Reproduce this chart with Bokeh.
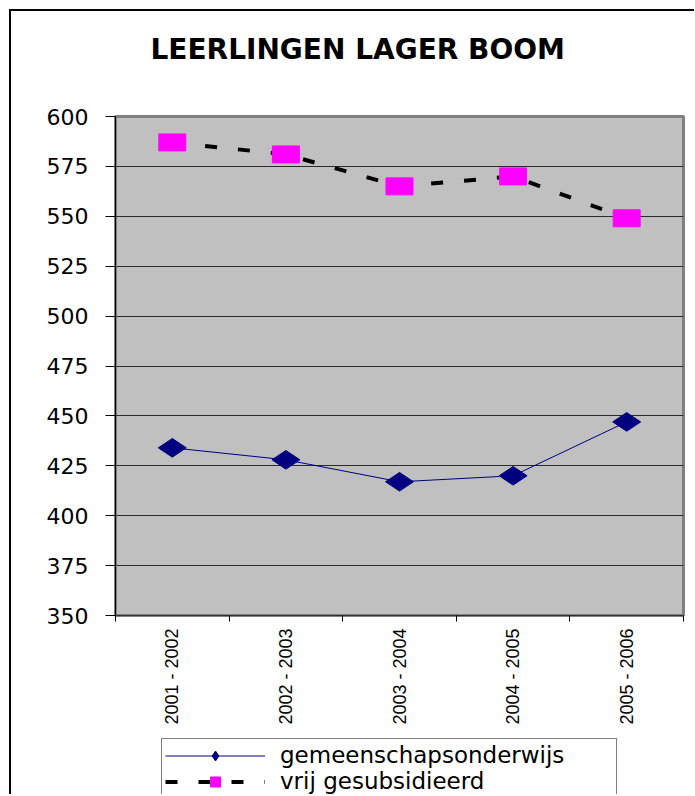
import math
from bokeh.plotting import figure
from bokeh.models import (ColumnDataSource, FixedTicker, Legend, LegendItem,
                          Range1d, Title)
from bokeh.layouts import column
from bokeh.embed import file_html
from bokeh.resources import INLINE

# ---- data ----
years = ["2001 - 2002", "2002 - 2003", "2003 - 2004", "2004 - 2005", "2005 - 2006"]
gemeenschapsonderwijs = [434, 428, 417, 420, 447]
vrij_gesubsidieerd = [587, 581, 565, 570, 549]
y_ticks = [350, 375, 400, 425, 450, 475, 500, 525, 550, 575, 600]
series_names = ["gemeenschapsonderwijs", "vrij gesubsidieerd"]
title_text = "LEERLINGEN LAGER BOOM"

xpos = [i + 0.5 for i in range(len(years))]
src = ColumnDataSource(dict(x=xpos, g=gemeenschapsonderwijs, v=vrij_gesubsidieerd))

NAVY = "#000080"
MAGENTA = "#FF00FF"

p = figure(width=683, height=719, output_backend="svg", toolbar_location=None,
           x_range=Range1d(0, len(years)), y_range=Range1d(y_ticks[0], y_ticks[-1]),
           min_border_left=104, min_border_right=11, min_border_top=105,
           min_border_bottom=115)

# spacer between title and plot area, then the title itself
p.add_layout(Title(text=" ", text_font_size="10px", standoff=36), "above")
p.add_layout(Title(text=title_text, align="left", offset=35,
                   text_font="DejaVu Sans", text_font_size="28px",
                   text_font_style="bold", text_color="black", standoff=4),
             "above")

p.background_fill_color = "#C0C0C0"
p.border_fill_color = "white"
p.outline_line_color = "#808080"
p.outline_line_width = 3

# grid
p.xgrid.visible = False
p.ygrid.grid_line_color = "#2a2a2a"
p.ygrid.grid_line_width = 1

# y axis
p.yaxis.ticker = FixedTicker(ticks=y_ticks)
p.yaxis.major_tick_out = 10
p.yaxis.major_tick_in = 0
p.yaxis.minor_tick_out = 0
p.yaxis.minor_tick_in = 0
p.yaxis.major_label_standoff = 17
p.yaxis.major_label_text_font = "DejaVu Sans"
p.yaxis.major_label_text_font_size = "22px"
p.yaxis.major_label_text_color = "black"
p.yaxis.axis_line_color = "black"
p.yaxis.major_tick_line_color = "black"

# x axis: labels at category centres, tick marks at category boundaries
p.xaxis.ticker = FixedTicker(ticks=xpos, minor_ticks=list(range(len(years) + 1)))
p.xaxis.major_label_overrides = {x: lab for x, lab in zip(xpos, years)}
p.xaxis.major_tick_out = 0
p.xaxis.major_tick_in = 0
p.xaxis.minor_tick_out = 6
p.xaxis.minor_tick_in = 0
p.xaxis.minor_tick_line_color = "black"
p.xaxis.major_label_orientation = math.pi / 2
p.xaxis.major_label_standoff = 7
p.xaxis.major_label_text_font = "Liberation Sans"
p.xaxis.major_label_text_font_size = "18px"
p.xaxis.major_label_text_color = "black"
p.xaxis.axis_line_color = "#333333"

# series
p.line("x", "g", source=src, line_color=NAVY, line_width=1)
p.scatter("x", "g", source=src, marker="diamond", size=28, angle=math.pi / 2,
          fill_color=NAVY, line_color=NAVY)
p.line("x", "v", source=src, line_color="black", line_width=4, line_dash="12 21")
p.rect("x", "v", source=src, width=27, height=17, width_units="screen",
       height_units="screen", fill_color=MAGENTA, line_color=MAGENTA)

# ---- legend strip (separate figure below the chart) ----
pl = figure(width=683, height=64, output_backend="svg", toolbar_location=None,
            x_range=Range1d(0, 1), y_range=Range1d(0, 1),
            min_border_left=0, min_border_right=0, min_border_top=0,
            min_border_bottom=0)
pl.axis.visible = False
pl.grid.visible = False
pl.outline_line_color = None
pl.background_fill_color = "white"
pl.border_fill_color = "white"

k1 = pl.line("x", "g", source=src, line_color=NAVY, line_width=1, visible=False)
d1 = pl.scatter("x", "g", source=src, marker="diamond", size=28,
                fill_color=NAVY, line_color=NAVY, visible=False)
k2 = pl.line("x", "v", source=src, line_color="black", line_width=4,
             line_dash="12 21", visible=False)
d2 = pl.scatter("x", "v", source=src, marker="square", size=16,
                fill_color=MAGENTA, line_color=MAGENTA, visible=False)

legend = Legend(items=[LegendItem(label=series_names[0], renderers=[k1, d1]),
                       LegendItem(label=series_names[1], renderers=[k2, d2])],
                location=(46, -4), orientation="vertical",
                glyph_width=100, glyph_height=25, label_height=25,
                label_width=333, label_standoff=15, padding=3, spacing=0,
                margin=0, border_line_color="black", border_line_width=1,
                label_text_font="DejaVu Sans", label_text_font_size="23px",
                label_text_color="black", background_fill_color="white",
                background_fill_alpha=1.0)
pl.add_layout(legend, "center")

layout = column(p, pl, styles={"border-left": "2px solid black",
                               "border-top": "2px solid black",
                               "margin-left": "9px", "margin-top": "9px"})

open("out.html", "w").write(file_html(layout, INLINE))
